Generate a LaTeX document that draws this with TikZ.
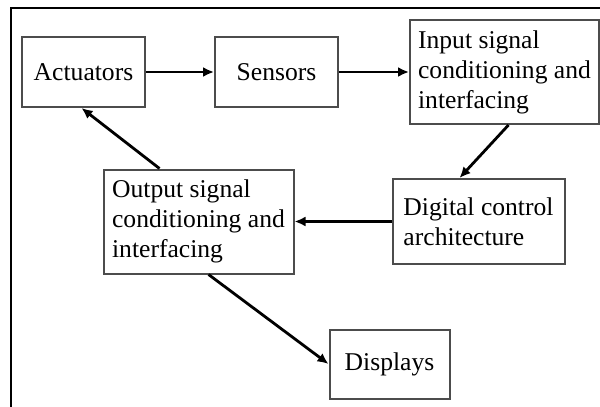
\documentclass[tikz,border=0pt]{standalone}
\usepackage{fontspec}
\setmainfont{Liberation Serif}
\usetikzlibrary{arrows.meta,positioning}
\definecolor{edge}{gray}{0.3}

\begin{document}
\begin{tikzpicture}[>={Latex[length=5.5pt,width=5pt]},node distance=34pt,
box/.style={draw=edge,line width=1pt,align=left,inner sep=4pt,
font=\fontsize{12.8}{15}\selectfont},
link/.style={->,line width=1.4pt}]
\useasboundingbox (0,0) rectangle (300pt,-203.5pt);
\draw[line width=0.9pt] (5.5pt,-210pt) |- (310pt,-4pt);
\node[box,minimum width=61.5pt,minimum height=35pt] (act) at (41.75pt,-36pt) {Actuators};
\node[box,minimum width=61.5pt,minimum height=35pt,right=of act] (sens) {Sensors};
\node[box,minimum width=94.5pt,minimum height=52pt,right=35pt of sens] (input) {Input signal\\conditioning and\\interfacing};
\node[box,minimum width=86pt,minimum height=42.5pt,below=26.5pt of input,xshift=-13pt] (digital) {Digital control\\architecture};
\node[box,minimum width=95pt,minimum height=52pt,left=48.5pt of digital] (output) {Output signal\\conditioning and\\interfacing};
\node[box,minimum width=60pt,minimum height=34.5pt,below=27pt of output,xshift=95.5pt] (disp) {Displays};
\draw[link] (act)--(sens);\draw[link] (sens)--(input);
\draw[link] ([xshift=2pt]input.south)--([xshift=-9.5pt]digital.north);
\draw[link] (digital.west)--(digital.west-|output.east);
\draw[link] ([xshift=-19.5pt]output.north)--([xshift=-1pt]act.south);
\draw[link] ([xshift=5pt]output.south)--(disp.west);
\end{tikzpicture}
\end{document}
